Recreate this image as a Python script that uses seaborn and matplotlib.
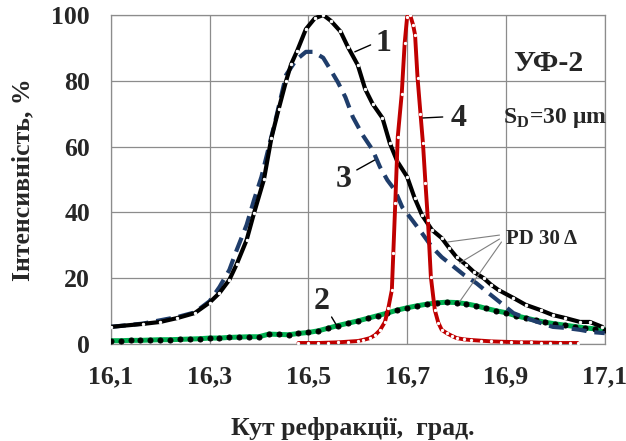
import matplotlib
matplotlib.use("Agg")
import matplotlib.pyplot as plt
import seaborn as sns

# ---- data ----
x1 = [16.10, 16.165, 16.20, 16.235, 16.27, 16.30, 16.32, 16.34, 16.355, 16.375, 16.39, 16.41,
      16.425, 16.44, 16.455, 16.465, 16.477, 16.495, 16.513, 16.53, 16.545, 16.565, 16.58,
      16.60, 16.615, 16.63, 16.65, 16.665, 16.68, 16.70, 16.715, 16.73, 16.75, 16.77, 16.785,
      16.80, 16.82, 16.835, 16.855, 16.87, 16.885, 16.915, 16.94, 16.97, 16.995, 17.02, 17.05,
      17.07, 17.095]
y1 = [5.2, 6.1, 6.7, 7.9, 9.4, 12.6, 15.5, 19.5, 24.3, 31.6, 39.8, 50.0,
      62.5, 71.5, 80.0, 85.0, 89.0, 95.7, 99.0, 100.0, 98.3, 95.0, 90.3,
      84.8, 77.5, 73.0, 68.7, 61.0, 55.5, 50.8, 44.4, 39.2, 34.7, 32.2, 29.2,
      26.4, 24.0, 21.9, 20.0, 18.0, 16.4, 14.0, 11.9, 10.3, 8.8, 7.9, 6.7,
      6.7, 5.2]

x2 = [16.10, 16.12, 16.14, 16.16, 16.18, 16.20, 16.22, 16.24, 16.26, 16.28, 16.30, 16.32,
      16.34, 16.36, 16.38, 16.40, 16.42, 16.44, 16.46, 16.48, 16.50, 16.52, 16.54, 16.56,
      16.58, 16.60, 16.62, 16.64, 16.66, 16.68, 16.70, 16.72, 16.74, 16.76, 16.78, 16.80,
      16.82, 16.84, 16.86, 16.88, 16.90, 16.92, 16.94, 16.96, 16.98, 17.00, 17.02, 17.04,
      17.06, 17.08, 17.10]
y2 = [1.0, 1.0, 1.1, 1.1, 1.2, 1.3, 1.3, 1.4, 1.5, 1.6, 1.8, 1.8,
      2.0, 2.1, 2.2, 2.2, 3.0, 2.9, 2.8, 3.2, 3.5, 4.0, 4.8, 5.6,
      6.3, 7.0, 7.8, 8.6, 9.4, 10.3, 11.0, 11.6, 12.1, 12.5, 12.7, 12.6,
      12.2, 11.6, 10.8, 10.1, 9.5, 8.6, 7.9, 7.2, 6.6, 6.1, 5.7, 5.3,
      4.9, 4.6, 4.4]

x3 = [16.10, 16.165, 16.235, 16.27, 16.30, 16.32, 16.34, 16.355, 16.375, 16.39, 16.405, 16.435,
      16.455, 16.475, 16.495, 16.51, 16.53, 16.545, 16.56, 16.575, 16.59, 16.61, 16.63, 16.645,
      16.66, 16.675, 16.69, 16.71, 16.73, 16.75, 16.77, 16.79, 16.815, 16.84, 16.862, 16.887,
      16.915, 16.94, 16.97, 16.995, 17.02, 17.05, 17.075, 17.10]
y3 = [5.2, 6.2, 8.2, 9.6, 13.0, 17.3, 22.5, 28.6, 36.2, 43.8, 50.8, 69.0,
      81.8, 86.3, 88.8, 88.8, 87.0, 83.3, 79.5, 75.0, 69.0, 63.5, 59.0, 53.8,
      49.8, 46.8, 41.6, 37.7, 33.7, 29.5, 26.4, 24.0, 21.0, 18.5, 15.8, 12.8,
      9.4, 7.9, 6.4, 5.2, 4.9, 4.3, 3.6, 3.3]

x4 = [16.48, 16.50, 16.52, 16.54, 16.56, 16.58, 16.60, 16.61, 16.625, 16.635, 16.645, 16.655,
      16.662, 16.669, 16.672, 16.676, 16.681, 16.689, 16.695, 16.70, 16.706, 16.712, 16.716,
      16.721, 16.727, 16.732, 16.737, 16.742, 16.748, 16.756, 16.763, 16.77, 16.78, 16.79,
      16.80, 16.815, 16.83, 16.85, 16.87, 16.89, 16.91, 16.93, 16.95, 16.97, 16.99, 17.01,
      17.03, 17.045]
y4 = [0.3, 0.3, 0.3, 0.4, 0.5, 0.7, 0.9, 1.2, 1.8, 2.7, 4.2, 6.7,
      11.0, 16.4, 27.7, 43.0, 63.0, 76.0, 91.5, 99.5, 100.0, 97.0, 94.0,
      81.0, 70.0, 61.0, 49.0, 37.7, 20.4, 10.3, 6.5, 4.3, 3.3, 2.5,
      1.8, 1.4, 1.2, 1.0, 0.8, 0.7, 0.6, 0.5, 0.5, 0.4, 0.4, 0.3,
      0.3, 0.3]

xticks = [16.1, 16.3, 16.5, 16.7, 16.9, 17.1]
xtick_labels = ["16,1", "16,3", "16,5", "16,7", "16,9", "17,1"]
yticks = [0, 20, 40, 60, 80, 100]

# ---- style ----
sns.set_style("white")
plt.rcParams['font.family'] = ['Liberation Serif', 'DejaVu Serif']
plt.rcParams['font.weight'] = 'bold'

fig = plt.figure(figsize=(6.26, 4.41), dpi=100)
ax = fig.add_axes([0.177, 0.22, 0.789, 0.746])

BLACK = "#000000"
GREEN = "#00B050"
NAVY = "#1F3D6B"
RED = "#C00000"

# curve 2 (green with black dots)
sns.lineplot(x=x2, y=y2, ax=ax, color=GREEN, linewidth=3.6, marker='o', markersize=3.6,
             markerfacecolor=BLACK, markeredgecolor=BLACK, zorder=3)
# curve 3 (dashed navy)
sns.lineplot(x=x3, y=y3, ax=ax, color=NAVY, linewidth=3.0, zorder=4)
ax.lines[-1].set_dashes([3.6, 1.9])
# curve 1 (black with white dots)
sns.lineplot(x=x1, y=y1, ax=ax, color=BLACK, linewidth=3.0, marker='o', markersize=1.7,
             markerfacecolor='white', markeredgecolor='white', zorder=5)
# curve 4 (red with white dots)
sns.lineplot(x=x4, y=y4, ax=ax, color=RED, linewidth=2.8, marker='o', markersize=1.6,
             markerfacecolor='white', markeredgecolor='white', zorder=6)

ax.set_xlim(16.1, 17.1)
ax.set_ylim(0, 100)
ax.set_xticks(xticks)
ax.set_xticklabels(xtick_labels)
ax.set_yticks(yticks)
ax.grid(True, color="#8C8C8C", linewidth=0.9)
ax.set_axisbelow(True)
for s in ax.spines.values():
    s.set_visible(True)
    s.set_color("#8C8C8C")
    s.set_linewidth(0.9)
ax.tick_params(axis='both', length=0, pad=15, labelsize=18.5)
for lab in ax.get_xticklabels() + ax.get_yticklabels():
    lab.set_fontweight('bold')

ax.set_xlabel("Кут рефракції,  град.", fontsize=18.5, fontweight='bold')
ax.set_ylabel("Інтенсивність, %", fontsize=18.5, fontweight='bold')
ax.xaxis.set_label_coords(0.49, -0.222)
ax.yaxis.set_label_coords(-0.154, 0.5)

# annotations
tk = dict(fontweight='bold', ha='center', va='center', zorder=7)
ax.text(16.652, 91.3, "1", fontsize=23, **tk)
ax.plot([16.594, 16.626], [88.8, 90.9], color=BLACK, lw=1.0, zorder=7)
ax.text(16.805, 68.5, "4", fontsize=23, **tk)
ax.plot([16.732, 16.772], [68.7, 69.0], color=BLACK, lw=1.0, zorder=7)
ax.text(16.571, 50.0, "3", fontsize=23, **tk)
ax.plot([16.598, 16.634], [52.9, 55.9], color=BLACK, lw=1.0, zorder=7)
ax.text(16.527, 13.0, "2", fontsize=23, **tk)
ax.plot([16.547, 16.559], [8.2, 5.2], color=BLACK, lw=1.0, zorder=7)

ax.text(16.972, 31.8, "PD 30 Δ", fontsize=15, **tk)
for (xa, ya, xb, yb) in [(16.887, 33.1, 16.782, 31.0),
                         (16.887, 31.9, 16.806, 24.6),
                         (16.891, 31.0, 16.806, 12.8)]:
    ax.plot([xa, xb], [ya, yb], color="#7F7F7F", lw=0.8, zorder=7)

ax.text(16.985, 85.4, "УФ-2", fontsize=21.5, **tk)
ax.text(16.999, 68.7, r"S$_\mathregular{D}$=30 μm", fontsize=17, **tk)

fig.savefig("out.png", dpi=100)
